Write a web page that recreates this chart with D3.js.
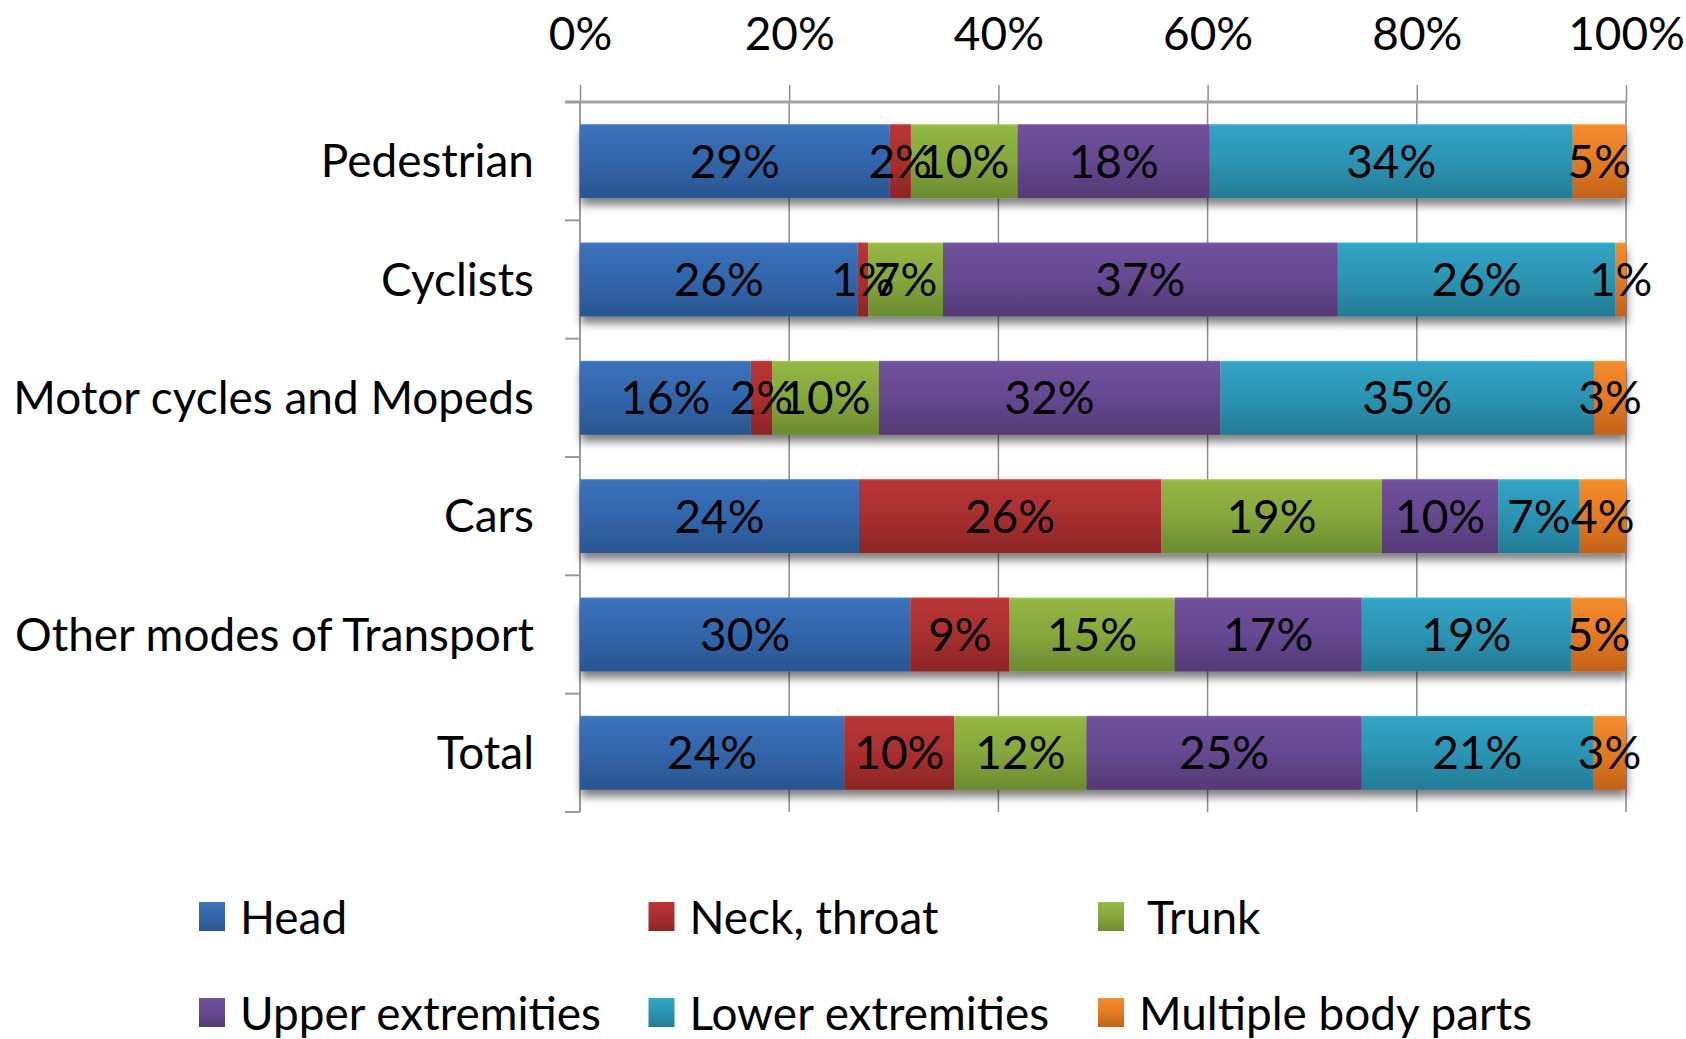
<!DOCTYPE html>
<html>
<head>
<meta charset="utf-8">
<script src="https://cdn.jsdelivr.net/npm/d3@7"></script>
<style>
  html, body { margin: 0; padding: 0; background: #fff; }
  svg { display: block; }
  text { font-family: Lato, "Open Sans", sans-serif; }
</style>
</head>
<body>
<svg id="chart" width="1686" height="1039"></svg>
<script>
// ---------------- DATA ----------------
const categories = ["Pedestrian", "Cyclists", "Motor cycles and Mopeds", "Cars", "Other modes of Transport", "Total"];
const seriesNames = ["Head", "Neck, throat", "Trunk", "Upper extremities", "Lower extremities", "Multiple body parts"];
const headValues     = [29, 26, 16, 24, 30, 24];
const neckValues     = [2, 1, 2, 26, 9, 10];
const trunkValues    = [10, 7, 10, 19, 15, 12];
const upperValues    = [18, 37, 32, 10, 17, 25];
const lowerValues    = [34, 26, 35, 7, 19, 21];
const multipleValues = [5, 1, 3, 4, 5, 3];
const xTickValues    = [0, 0.2, 0.4, 0.6, 0.8, 1];

// ---------------- STYLE ----------------
const colorsTop    = ["#3b72bb", "#b93635", "#93b644", "#71519b", "#32a3c4", "#f48b2c"];
const colorsMid    = ["#3266ab", "#a82f2f", "#85a73c", "#654890", "#2c94b3", "#e47a22"];
const colorsBottom = ["#2a5590", "#8d2526", "#6b8b2f", "#543a75", "#237b95", "#c1621b"];

const W = 1686, H = 1039;
const plotLeft = 580, plotRight = 1626, plotTop = 102, plotBottom = 812;
const FS = 47;

const seriesValues = [headValues, neckValues, trunkValues, upperValues, lowerValues, multipleValues];
const rows = categories.map((c, i) => {
  const o = { category: c };
  seriesNames.forEach((s, j) => { o[s] = seriesValues[j][i]; });
  return o;
});
const layers = d3.stack().keys(seriesNames).offset(d3.stackOffsetExpand)(rows);

const svg = d3.select("#chart");

// horizontal compression factor for text (reference font is condensed)
const probe = svg.append("text").attr("font-size", FS).text("Other modes of Transport");
let sx = 519 / probe.node().getComputedTextLength();
if (!isFinite(sx) || sx <= 0) sx = 0.85;
probe.remove();

function addText(parent, x, y, str, anchor) {
  return parent.append("text")
    .attr("transform", `translate(${x},${y}) scale(${sx},1)`)
    .attr("text-anchor", anchor)
    .attr("font-size", FS)
    .attr("fill", "#000")
    .text(str);
}

// scales
const x = d3.scaleLinear().domain([0, 1]).range([plotLeft, plotRight]);
const y = d3.scaleBand().domain(categories).range([plotTop, plotBottom]).paddingInner(0.375).paddingOuter(0.1875);

// defs
const defs = svg.append("defs");
seriesNames.forEach((s, j) => {
  const g = defs.append("linearGradient").attr("id", "grad" + j)
    .attr("x1", 0).attr("y1", 0).attr("x2", 0).attr("y2", 1);
  g.append("stop").attr("offset", 0).attr("stop-color", d3.color(colorsTop[j]).brighter(0.4));
  g.append("stop").attr("offset", 0.03).attr("stop-color", colorsTop[j]);
  g.append("stop").attr("offset", 0.5).attr("stop-color", colorsMid[j]);
  g.append("stop").attr("offset", 1).attr("stop-color", colorsBottom[j]);
});
const filt = defs.append("filter").attr("id", "shadow")
  .attr("x", "-5%").attr("y", "-10%").attr("width", "110%").attr("height", "125%");
filt.append("feDropShadow").attr("dx", 1).attr("dy", 7).attr("stdDeviation", 4.5)
  .attr("flood-color", "#000").attr("flood-opacity", 0.5);

// gridlines
svg.append("g").selectAll("line").data(xTickValues).join("line")
  .attr("x1", d => x(d)).attr("x2", d => x(d))
  .attr("y1", plotTop).attr("y2", plotBottom)
  .attr("stroke", "#8c8c8c").attr("stroke-width", 1.5);

// top axis
const axisG = svg.append("g").attr("transform", `translate(0,${plotTop})`)
  .call(d3.axisTop(x).tickValues(xTickValues).tickFormat(d3.format(".0%")).tickSize(17).tickSizeOuter(0));
axisG.attr("font-size", FS).attr("font-family", "Lato, 'Open Sans', sans-serif");
axisG.select(".domain").remove();
axisG.selectAll(".tick line").attr("stroke", "#8c8c8c").attr("stroke-width", 1.5);
axisG.selectAll(".tick text")
  .attr("y", 0).attr("dy", null)
  .attr("transform", `translate(0,-52.5) scale(${sx},1)`)
  .attr("fill", "#000");

// category boundaries for left ticks
const step = y.step();
const bounds = categories.map(c => y(c) - step * y.paddingInner() / 2).concat([plotBottom]);

// axis lines
svg.append("line").attr("x1", plotLeft - 15).attr("x2", plotRight).attr("y1", plotTop).attr("y2", plotTop)
  .attr("stroke", "#a3a3a3").attr("stroke-width", 3);
svg.append("line").attr("x1", plotLeft).attr("x2", plotLeft).attr("y1", plotTop).attr("y2", plotBottom)
  .attr("stroke", "#9a9a9a").attr("stroke-width", 2);
svg.append("g").selectAll("line").data(bounds).join("line")
  .attr("x1", plotLeft - 15).attr("x2", plotLeft).attr("y1", d => d).attr("y2", d => d)
  .attr("stroke", "#9a9a9a").attr("stroke-width", 2);

// bars
const barsG = svg.append("g").attr("filter", "url(#shadow)");
layers.forEach((layer, j) => {
  barsG.append("g").selectAll("rect").data(layer).join("rect")
    .attr("x", d => x(d[0]))
    .attr("width", d => x(d[1]) - x(d[0]))
    .attr("y", d => y(d.data.category))
    .attr("height", y.bandwidth())
    .attr("fill", `url(#grad${j})`);
});

// data labels
const labG = svg.append("g");
layers.forEach((layer) => {
  layer.forEach(d => {
    const cx = (x(d[0]) + x(d[1])) / 2;
    const cy = y(d.data.category) + y.bandwidth() / 2 + 16.5;
    addText(labG, cx, cy, d.data[layer.key] + "%", "middle");
  });
});

// category labels
const catG = svg.append("g");
categories.forEach(c => {
  addText(catG, 534, y(c) + y.bandwidth() / 2 + 16, c, "end");
});

// legend
const legG = svg.append("g");
seriesNames.forEach((s, j) => {
  const col = j % 3, row = Math.floor(j / 3);
  const lx = 199 + col * 449.5;
  const ly = 902 + row * 96;
  legG.append("rect").attr("x", lx).attr("y", ly).attr("width", 26).attr("height", 29)
    .attr("fill", `url(#grad${j})`);
  addText(legG, lx + 41 + (j === 2 ? 8 : 0), ly + 32, s, "start");
});
</script>
</body>
</html>
